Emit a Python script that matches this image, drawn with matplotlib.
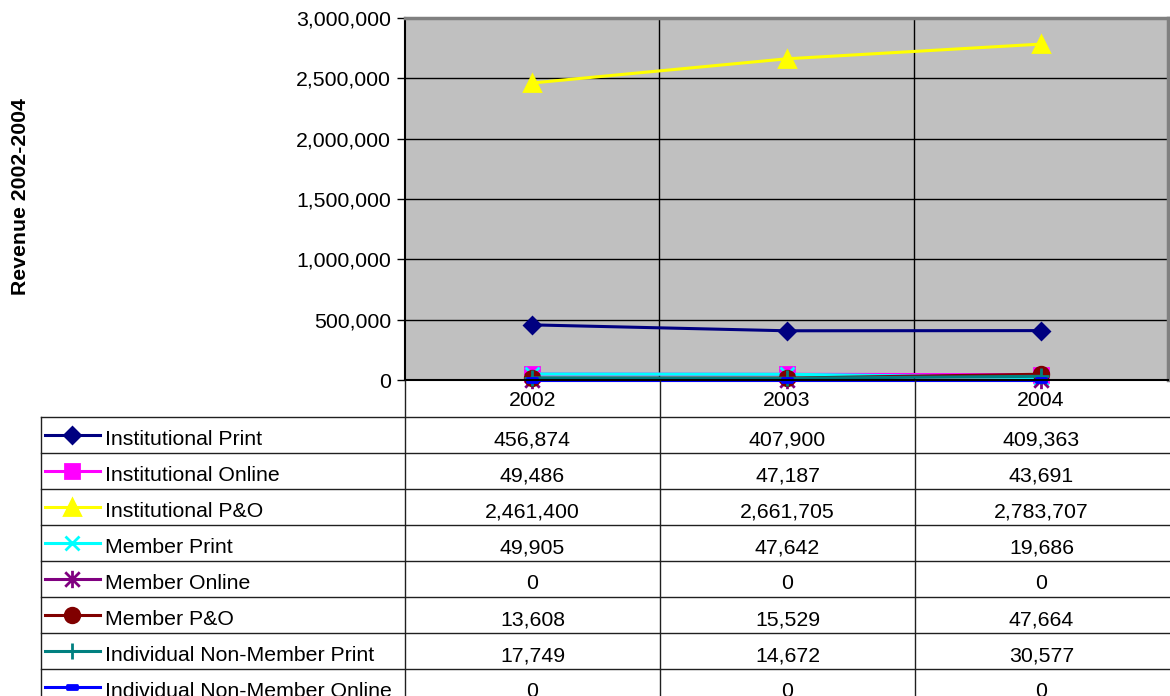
import matplotlib
matplotlib.use("Agg")
import matplotlib.pyplot as plt
from matplotlib.ticker import FuncFormatter
from matplotlib.path import Path

years = ["2002", "2003", "2004"]
series_names = [
    "Institutional Print",
    "Institutional Online",
    "Institutional P&O",
    "Member Print",
    "Member Online",
    "Member P&O",
    "Individual Non-Member Print",
    "Individual Non-Member Online",
]
institutional_print = [456874, 407900, 409363]
institutional_online = [49486, 47187, 43691]
institutional_po = [2461400, 2661705, 2783707]
member_print = [49905, 47642, 19686]
member_online = [0, 0, 0]
member_po = [13608, 15529, 47664]
indiv_print = [17749, 14672, 30577]
indiv_online = [0, 0, 0]
series_values = [institutional_print, institutional_online, institutional_po,
                 member_print, member_online, member_po, indiv_print, indiv_online]
y_ticks = [0, 500000, 1000000, 1500000, 2000000, 2500000, 3000000]
y_label = "Revenue 2002-2004"

asterisk = Path([(-1, -1), (1, 1), (-1, 1), (1, -1), (0, -1.2), (0, 1.2)],
                [Path.MOVETO, Path.LINETO, Path.MOVETO, Path.LINETO, Path.MOVETO, Path.LINETO])
dash_rect = Path([(-1, -0.55), (1, -0.55), (1, 0.55), (-1, 0.55), (-1, -0.55)],
                 [Path.MOVETO, Path.LINETO, Path.LINETO, Path.LINETO, Path.CLOSEPOLY])

colors = ["#000080", "#FF00FF", "#FFFF00", "#00FFFF", "#800080", "#800000", "#008080", "#0000FF"]
markers = ["D", "s", "^", "x", asterisk, "o", "+", dash_rect]
msizes = [8.5, 10, 11.5, 10, 12.5, 10.5, 12, 6.5]

plt.rcParams['font.family'] = ['Liberation Sans', 'DejaVu Sans']
FS = 15.3

W, H = 1170, 696
fig = plt.figure(figsize=(W / 100, H / 100), dpi=100)

L, R, T, B = 405, 1168, 18, 380
ax = fig.add_axes([L / W, 1 - B / H, (R - L) / W, (B - T) / H])
ax.set_facecolor("#C0C0C0")
x = list(range(len(years)))
for name, vals, c, m, ms in zip(series_names, series_values, colors, markers, msizes):
    ax.plot(x, vals, color=c, lw=2.2, marker=m, ms=ms, mfc=c, mec=c, mew=2, label=name,
            clip_on=False, zorder=3)
ax.set_xlim(-0.5, len(years) - 0.5)
ax.set_ylim(y_ticks[0], y_ticks[-1])
ax.set_yticks(y_ticks)
ax.yaxis.set_major_formatter(FuncFormatter(lambda v, p: f"{int(v):,}"))
ax.set_xticks(x)
ax.set_xticklabels(years)
ax.set_xticks([i + 0.5 for i in x[:-1]], minor=True)
ax.tick_params(axis="x", which="both", length=0, labelsize=FS, pad=8)
ax.tick_params(axis="y", length=6, width=1, labelsize=FS, pad=4, color="black")
ax.grid(True, axis="y", which="major", color="black", lw=1, zorder=1)
ax.grid(True, axis="x", which="minor", color="black", lw=1, zorder=1)
ax.set_axisbelow(True)
for s in ["left", "bottom"]:
    ax.spines[s].set_color("black")
    ax.spines[s].set_linewidth(1.5)
for s in ["top", "right"]:
    ax.spines[s].set_color("#808080")
    ax.spines[s].set_linewidth(2.5)
ax.spines["bottom"].set_zorder(4)

fig.text(20 / W, 1 - 197 / H, y_label, rotation=90, ha="center", va="center",
         fontsize=FS, fontweight="bold")

# data table
ov = fig.add_axes([0, 0, 1, 1], facecolor="none")
ov.set_xlim(0, W)
ov.set_ylim(H, 0)
ov.axis("off")
lc = "#202020"
row_h = 36
top = 417
col_edges = [L, 660, 915, R]
for xv in col_edges[:-1]:
    ov.plot([xv, xv], [B, H + 5], color=lc, lw=1, solid_capstyle="butt")
ov.plot([41, 41], [top, H + 5], color=lc, lw=1)
n = len(series_names)
for i in range(n + 1):
    yy = top + i * row_h
    ov.plot([41, R + 1], [yy, yy], color=lc, lw=1)
for i, (name, vals, c, m, ms) in enumerate(zip(series_names, series_values, colors, markers, msizes)):
    ymid = top + i * row_h + row_h / 2
    ybase = top + (i + 1) * row_h - 8
    ov.plot([45, 100], [ymid, ymid], color=c, lw=2.2)
    ov.plot([72], [ymid], color=c, marker=m, ms=ms, mfc=c, mec=c, mew=2)
    ov.text(105, ybase, name, ha="left", va="baseline", fontsize=FS)
    for j, v in enumerate(vals):
        xc = (col_edges[j] + col_edges[j + 1]) / 2
        ov.text(xc, ybase, f"{v:,}", ha="center", va="baseline", fontsize=FS)

fig.savefig("out.png", dpi=100)
